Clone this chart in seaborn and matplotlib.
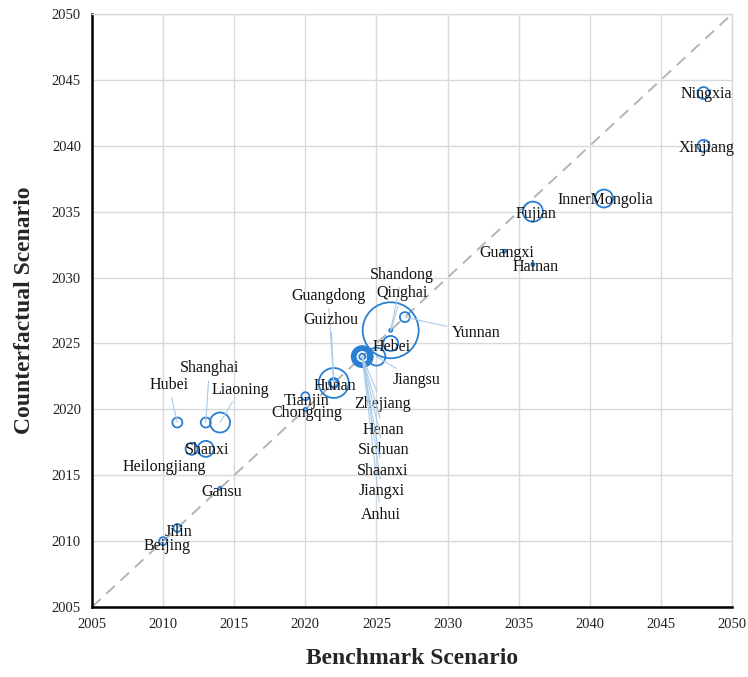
import matplotlib
matplotlib.use("Agg")
import matplotlib.pyplot as plt
import seaborn as sns
import pandas as pd

# Peak year of each province under the two scenarios
provinces = ["Beijing", "Tianjin", "Hebei", "Shanxi", "InnerMongolia", "Liaoning",
             "Jilin", "Heilongjiang", "Shanghai", "Jiangsu", "Zhejiang", "Anhui",
             "Fujian", "Jiangxi", "Shandong", "Henan", "Hubei", "Hunan",
             "Guangdong", "Guangxi", "Hainan", "Chongqing", "Sichuan", "Guizhou",
             "Yunnan", "Shaanxi", "Gansu", "Qinghai", "Ningxia", "Xinjiang"]
benchmark = [2010, 2020, 2026, 2013, 2041, 2014,
             2011, 2012, 2013, 2025, 2024, 2024,
             2036, 2024, 2026, 2024, 2011, 2022,
             2022, 2034, 2036, 2020, 2024, 2022,
             2027, 2024, 2014, 2026, 2048, 2048]
counterfactual = [2010, 2021, 2025, 2017, 2036, 2019,
                  2011, 2017, 2019, 2024, 2024, 2024,
                  2035, 2024, 2026, 2024, 2019, 2022,
                  2022, 2032, 2031, 2020, 2024, 2022,
                  2027, 2024, 2014, 2026, 2044, 2040]
# Relative bubble magnitude
magnitude = [2.0, 2.0, 7.2, 8.2, 10.3, 12.8,
             2.0, 4.6, 3.2, 10.3, 11.5, 7.2,
             12.8, 1.1, 100.0, 14.1, 3.2, 3.2,
             28.7, 0.3, 0.3, 0.3, 9.2, 2.0,
             3.2, 5.4, 0.3, 0.3, 4.6, 4.6]

# Label placement (data coordinates) and whether a leader line is drawn
label_x = [2010.3, 2020.1, 2026.1, 2013.1, 2041.1, 2015.4,
           2011.1, 2010.1, 2013.25, 2027.8, 2025.4, 2025.3,
           2036.2, 2025.4, 2026.8, 2025.5, 2010.4, 2022.1,
           2021.6, 2034.2, 2036.2, 2020.1, 2025.5, 2021.8,
           2032.0, 2025.4, 2014.1, 2026.8, 2048.2, 2048.2]
label_y = [2009.6, 2020.6, 2024.7, 2016.9, 2035.9, 2021.5,
           2010.7, 2015.6, 2023.1, 2022.2, 2020.4, 2012.0,
           2034.8, 2013.8, 2030.2, 2018.4, 2021.85, 2021.8,
           2028.6, 2031.9, 2030.8, 2019.7, 2016.9, 2026.8,
           2025.8, 2015.3, 2013.7, 2028.8, 2043.9, 2039.8]
leader = [0, 0, 0, 0, 0, 1,
          0, 0, 1, 1, 1, 1,
          0, 1, 1, 1, 1, 0,
          1, 0, 0, 0, 1, 1,
          1, 1, 0, 1, 0, 0]

df = pd.DataFrame({"province": provinces, "benchmark": benchmark,
                   "counterfactual": counterfactual, "magnitude": magnitude})

sns.set_theme(style="white")
plt.rcParams["font.family"] = ["Liberation Serif", "DejaVu Serif"]

fig = plt.figure(figsize=(7.48, 6.77), dpi=100)
ax = fig.add_axes([0.123, 0.1034, 0.8556, 0.8759])

blue = "#2a7fd2"
leader_col = "#a9cbea"

# 1:1 reference line
ax.plot([2005, 2050], [2005, 2050], color="#b4b4b4", lw=1.4,
        dashes=(6, 4), zorder=1)

sns.scatterplot(data=df, x="benchmark", y="counterfactual", size="magnitude",
                sizes=(0, 1625), size_norm=(0, 100), legend=False,
                facecolors="none", edgecolor=blue, linewidth=1.3,
                marker="o", ax=ax, zorder=3)

for name, bx, cy, lx, ly, ld in zip(provinces, benchmark, counterfactual,
                                    label_x, label_y, leader):
    if ld:
        ax.annotate(name, xy=(bx, cy), xytext=(lx, ly), ha="center",
                    va="center", fontsize=11.5, color="#111111", zorder=4,
                    arrowprops=dict(arrowstyle="-", color=leader_col, lw=0.8,
                                    shrinkA=1, shrinkB=0))
    else:
        ax.text(lx, ly, name, ha="center", va="center", fontsize=11.5,
                color="#111111", zorder=4)

ax.set_xlim(2005, 2050)
ax.set_ylim(2005, 2050)
ax.set_xticks(range(2005, 2051, 5))
ax.set_yticks(range(2005, 2051, 5))
ax.grid(True, color="#d9d9d9", lw=1.0, zorder=0)
ax.set_axisbelow(True)
ax.tick_params(axis="both", length=0, labelsize=10.5, pad=8, colors="#222222")

for side in ("top", "right"):
    ax.spines[side].set_color("#d9d9d9")
    ax.spines[side].set_linewidth(1.0)
for side in ("left", "bottom"):
    ax.spines[side].set_color("black")
    ax.spines[side].set_linewidth(1.8)

ax.set_xlabel("Benchmark Scenario", fontsize=17, fontweight="bold", labelpad=12)
ax.set_ylabel("Counterfactual Scenario", fontsize=17, fontweight="bold", labelpad=12)

fig.savefig("out.png", dpi=100)
